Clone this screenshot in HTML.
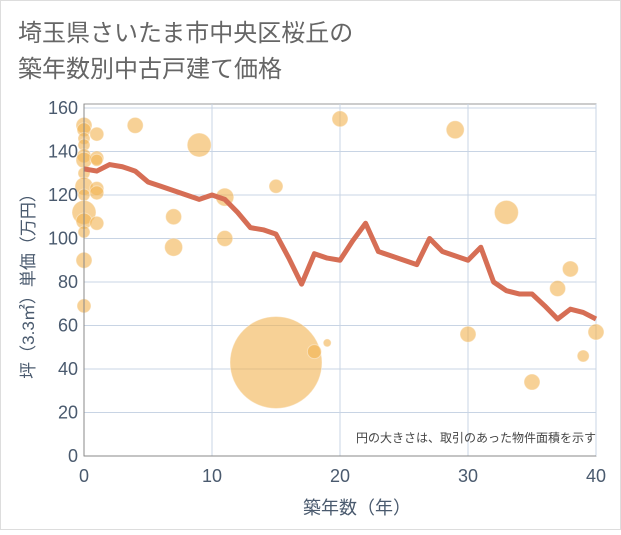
<!DOCTYPE html>
<html><head><meta charset="utf-8"><style>
body{margin:0;background:#fff;}
#c{width:621px;height:530px;position:relative;font-family:"Liberation Sans","Noto Sans CJK JP",sans-serif;}
</style></head><body>
<div id="c">
<svg id="s" width="621" height="530" xmlns="http://www.w3.org/2000/svg">
<rect x="0.5" y="0.5" width="620" height="529" fill="#fff" stroke="#ddd"/>
<text x="18" y="41" font-size="24" fill="#666" font-family="Liberation Sans, Noto Sans CJK JP, sans-serif">埼玉県さいたま市中央区桜丘の</text>
<text x="18" y="77" font-size="24" fill="#666" font-family="Liberation Sans, Noto Sans CJK JP, sans-serif">築年数別中古戸建て価格</text>
<g id="grid"></g><g id="bub"></g><g id="ln"></g><g id="ax"></g>
<text x="596" y="442" font-size="12" fill="#444" text-anchor="end" font-family="Liberation Sans, Noto Sans CJK JP, sans-serif">円の大きさは、取引のあった物件面積を示す</text>
<text x="357" y="514" font-size="18" fill="#4a5a6e" text-anchor="middle" font-family="Liberation Sans, Noto Sans CJK JP, sans-serif">築年数（年）</text>
<text transform="translate(34,282) rotate(-90)" font-size="17" fill="#4a5a6e" text-anchor="middle" font-family="Liberation Sans, Noto Sans CJK JP, sans-serif">坪（3.3㎡）単価（万円）</text>
</svg></div>
<script>
const xTicks=[0,10,20,30,40];
const yTicks=[0,20,40,60,80,100,120,140,160];
const lineX=[0,1,2,3,4,5,6,7,8,9,10,11,12,13,14,15,16,17,18,19,20,21,22,23,24,25,26,27,28,29,30,31,32,33,34,35,36,37,38,39,40];
const lineY=[132,131,134,133,131,126,124,122,120,118,120,118,112,105,104,102,91,79,93,91,90,99,107,94,92,90,88,100,94,92,90,96,80,76,74.5,74.5,69,63,67.5,66,63];
const bubX=[0,0,0,0,0,0,0,0,0,0,0,0,0,0,1,1,1,1,1,1,4,7,7,9,11,11,15,15,18,19,20,29,30,33,35,37,38,39,40];
const bubY=[152,150,146,143,138,136,130,124,120,112,108,103,90,69,148,137,136,123,121,107,152,110,96,143,119,100,124,43,48,52,155,150,56,112,34,77,86,46,57];
const bubR=[8,7,6,6,7,8,6,9,6,12,8,6,8,7,7,7,6,7,7,7,8,8,9,12,9,8,7,46,7,4,8,9,8,12,8,8,8,6,8];
const X=v=>84+12.8*v, Y=v=>456-2.175*v, NS="http://www.w3.org/2000/svg";
function mk(t,a,p){const e=document.createElementNS(NS,t);for(const k in a)e.setAttribute(k,a[k]);p.appendChild(e);return e;}
const g=document.getElementById('grid'),ax=document.getElementById('ax');
mk('rect',{x:84,y:104,width:512,height:352,fill:'none',stroke:'#999','stroke-width':1},g);
yTicks.forEach(v=>{const l=mk('line',{x1:84,x2:596,y1:Y(v),y2:Y(v),stroke:'#c8d4e4'},g);


const t=mk('text',{x:78,y:Y(v)+6,'font-size':18,fill:'#4a5a6e','text-anchor':'end'},ax);t.textContent=v;

});
xTicks.forEach(v=>{const l=mk('line',{x1:X(v),x2:X(v),y1:104,y2:456,stroke:'#c8d4e4'},g);


const t=mk('text',{x:X(v),y:482,'font-size':18,fill:'#4a5a6e','text-anchor':'middle'},ax);t.textContent=v;

});
mk('line',{x1:84,x2:84,y1:104,y2:456,stroke:'#888'},ax);
mk('line',{x1:84,x2:596,y1:456,y2:456,stroke:'#888'},ax);
const b=document.getElementById('bub');
bubX.forEach((v,i)=>{const c=mk('circle',{cx:X(v),cy:Y(bubY[i]),r:bubR[i],fill:'rgba(242,178,80,0.6)',stroke:'rgba(255,255,255,0.4)','stroke-width':1},b);

});
const p=mk('polyline',{points:lineX.map((v,i)=>X(v)+','+Y(lineY[i])).join(' '),fill:'none',stroke:'#d66e55','stroke-width':5,'stroke-linejoin':'round'},document.getElementById('ln'));


</script>
</body></html>
